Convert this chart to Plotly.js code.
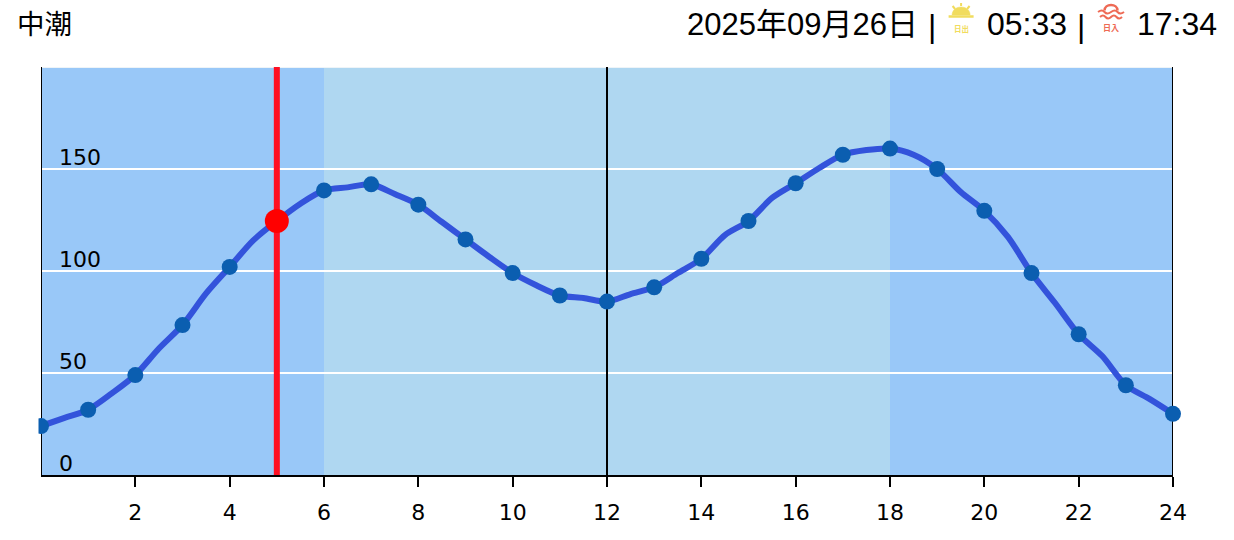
<!DOCTYPE html>
<html><head><meta charset="utf-8">
<script src="https://cdn.plot.ly/plotly-3.0.1.min.js"></script>
<style>html,body{margin:0;padding:0;background:#fff}#c{width:1234px;height:540px}</style>
</head><body><div id="c"></div>
<script>
const hours = [0,1,2,3,4,5,6,7,8,9,10,11,12,13,14,15,16,17,18,19,20,21,22,23,24];
const tide = [24,32,49,73.5,102,124.5,139.5,142.5,132.5,115.5,99,88,85,92,106,124.5,143,157,160,150,129.5,99,69,44,30];
const curveHours = [0,0.5,1,1.5,2,2.5,3,3.5,4,4.5,5,5.5,6,6.5,7,7.5,8,8.5,9,9.5,10,10.5,11,11.5,12,12.5,13,13.5,14,14.5,15,15.5,16,16.5,17,17.5,18,18.5,19,19.5,20,20.5,21,21.5,22,22.5,23,23.5,24];
const curveLevel = [24,28,32,40,49,62,73.5,89,102,115,124.5,133,139.5,141,142.5,137.7,132.5,124,115.5,107,99,93,88,86.8,85,88.7,92,99,106,117.6,124.5,135.8,143,150.5,157,159.3,160,157,150,138.7,129.5,116.7,99,84.3,69,58.3,44,37.3,30];
const xTicks = [2,4,6,8,10,12,14,16,18,20,22,24];
const yTicks = [0,50,100,150];
const gridValues = [50,100,150,200];
const nowHour = 5, nowLevel = 124.5;
const hourLines = [0,12,24];
const bandStarts = [0,6,18], bandEnds = [6,18,24];
const bandColors = ['#99C8F8','#AFD7F1','#99C8F8'];
const tideName = '中潮';
const dateText = '2025年09月26日';
const sunrise = '05:33', sunset = '17:34';

const vx=[],vy=[];
hourLines.forEach(h=>{vx.push(h,h,null);vy.push(0,200,null);});
const traces=[
 {x:vx,y:vy,mode:'lines',line:{color:'#000',width:2},cliponaxis:false,hoverinfo:'skip'},
 {x:[nowHour,nowHour],y:[0,200],mode:'lines',line:{color:'#FF0F22',width:6},hoverinfo:'skip'},
 {x:curveHours,y:curveLevel,mode:'lines',line:{color:'#3353DB',width:6,shape:'spline',smoothing:0.8},cliponaxis:false},
 {x:hours,y:tide,mode:'markers',marker:{color:'#0B5EB0',size:16},cliponaxis:false},
 {x:[nowHour],y:[nowLevel],mode:'markers',marker:{color:'#FF0000',size:24}}
];
const L=41, W=1132.5;
const px=x=>(x-L)/W;
const shapes=[];
bandStarts.forEach((s,i)=>shapes.push({type:'rect',xref:'x',yref:'y',x0:s,x1:bandEnds[i],y0:0,y1:200,fillcolor:bandColors[i],line:{width:0},layer:'below'}));
gridValues.forEach(v=>shapes.push({type:'line',xref:'x',yref:'y',x0:0,x1:24,y0:v,y1:v,line:{color:v===200?'#EEF4F8':'#FFFFFF',width:2},layer:'below'}));
shapes.push({type:'rect',xref:'paper',yref:'paper',x0:px(28),x1:px(38.5),y0:0,y1:1,fillcolor:'#fff',line:{width:0},layer:'above'});
const P=y=>67-y;
function icon(x,path,color,w,fill){return {type:'path',xref:'paper',yref:'paper',xsizemode:'pixel',ysizemode:'pixel',xanchor:px(x),yanchor:1,path:path,line:{color:color,width:w},fillcolor:fill||'rgba(0,0,0,0)',layer:'above'};}
const sun='#F1DC5E', dusk='#EE6A55';
shapes.push(icon(961.5,`M-9,${P(15)} C-9,${P(10)} -5,${P(7)} 0,${P(7)} C5,${P(7)} 9,${P(10)} 9,${P(15)} Z`,sun,0.5,sun));
shapes.push(icon(961.5,`M-12.5,${P(16.5)} L12.5,${P(16.5)}`,sun,2.5));
shapes.push(icon(961.5,`M0,${P(3)} L0,${P(6)} M-8.5,${P(6)} L-6,${P(9)} M8.5,${P(6)} L6,${P(9)}`,sun,2));
shapes.push(icon(1111.5,`M-6.5,${P(10.5)} C-6.5,${P(7)} -3.5,${P(5)} 0,${P(5)} C3.5,${P(5)} 6.5,${P(7)} 6.5,${P(10.5)}`,dusk,2.5));
shapes.push(icon(1111.5,`M-13,${P(12)} Q-9,${P(9)} -6.5,${P(12)} T0,${P(12)} T6.5,${P(12)} T13,${P(12)}`,dusk,2));
shapes.push(icon(1111.5,`M-11,${P(17)} Q-8,${P(14)} -5.5,${P(17)} T0,${P(17)} T5.5,${P(17)} T11,${P(17)}`,dusk,2));
const head={family:'"Liberation Sans",Arial,sans-serif',size:32,color:'#000'};
const cjk='"Noto Sans CJK JP","Liberation Sans",sans-serif';
const page=(x,y,text,font,anchor)=>({xref:'paper',yref:'paper',x:px(x),y:1,yshift:67-y,xanchor:anchor||'left',yanchor:'middle',text:text,showarrow:false,font:font,borderpad:0,borderwidth:0});
const ann=[
 page(17,21.5,tideName,{family:cjk,size:27.5,color:'#000'}),
 page(687,24,dateText,{family:'"Liberation Sans","Noto Sans CJK JP",sans-serif',size:31,color:'#000'}),
 page(928,26,'|',head),
 page(987,24,sunrise,head),
 page(1077.5,26,'|',head),
 page(1137,24,sunset,head),
 page(962,28,'<b>日出</b>',{family:cjk,size:7.5,color:sun},'center'),
 page(1111.5,27.5,'<b>日入</b>',{family:cjk,size:8,color:dusk},'center')
];
yTicks.forEach(v=>ann.push({xref:'paper',yref:'y',x:px(58),y:v,xanchor:'left',yanchor:'bottom',yshift:-2,text:String(v),showarrow:false,borderpad:0,font:{family:'"DejaVu Sans",sans-serif',size:22,color:'#000'}}));
Plotly.newPlot('c',traces,{
 width:1234,height:540,showlegend:false,paper_bgcolor:'#fff',plot_bgcolor:'#99C8F8',
 margin:{l:L,r:1234-L-W,t:67,b:65,pad:0},
 xaxis:{range:[0,24],tickmode:'array',tickvals:xTicks,ticktext:xTicks.map(String),ticks:'outside',ticklen:10,tickwidth:2,tickcolor:'#000',showline:true,linecolor:'#000',linewidth:2,showgrid:false,zeroline:false,ticklabelstandoff:7,tickfont:{family:'"DejaVu Sans",sans-serif',size:22,color:'#000'}},
 yaxis:{range:[0,200],showticklabels:false,ticks:'',showgrid:false,zeroline:false,showline:false},
 shapes:shapes,annotations:ann
},{displayModeBar:false,staticPlot:true});
</script></body></html>
